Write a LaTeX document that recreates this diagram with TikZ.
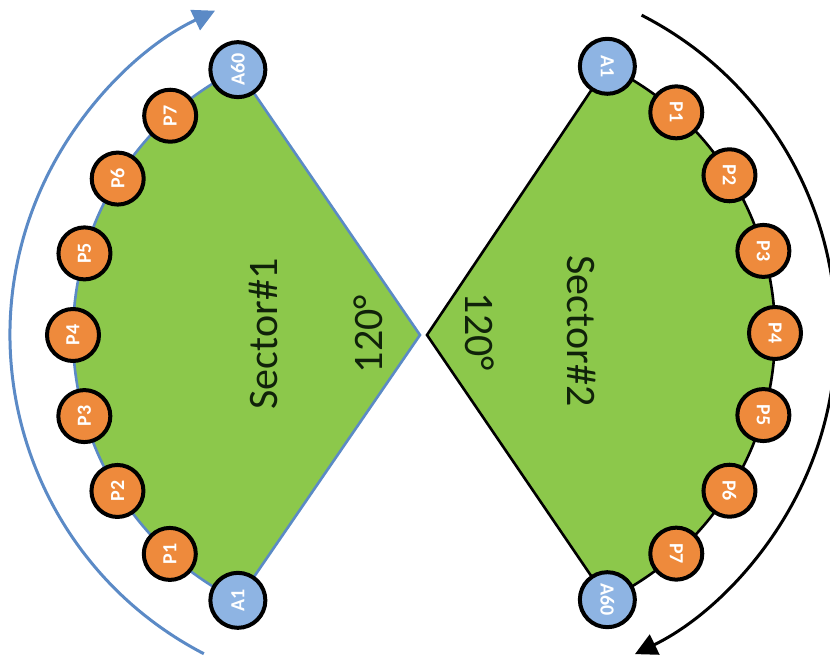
\documentclass[tikz,border=0pt]{standalone}
\usepackage{fontspec}
\setmainfont{Carlito}
\usetikzlibrary{arrows.meta}
\definecolor{secgreen}{HTML}{8CC84B}
\definecolor{porange}{HTML}{EE8A3C}
\definecolor{ablue}{HTML}{8EB4E3}
\definecolor{lineblue}{HTML}{5B8AC6}
\definecolor{textdark}{HTML}{10220A}
\tikzset{
  pcirc/.style={circle, draw=black, line width=2pt, fill=porange, minimum size=26pt, inner sep=0pt, text=white, font=\fontsize{10}{10}\selectfont\bfseries},
  acirc/.style={pcirc, fill=ablue, minimum size=27.5pt},
  biglabel/.style={text=textdark, font=\fontsize{21}{21}\selectfont},
}
\begin{document}
\begin{tikzpicture}[x=0.5pt,y=0.5pt]
\useasboundingbox (0,0) rectangle (830,658);
% centres and apexes
\coordinate (C1) at (369,323);
\coordinate (C2) at (479,325);
\coordinate (apexL) at (420,323);
\coordinate (apexR) at (427,323);
% sectors
\draw[lineblue, line width=1.3pt, fill=secgreen, line join=miter]
  (apexL) -- ([shift={(116.3:296)}]C1) arc[start angle=116.3, end angle=243.7, radius=296] -- cycle;
\draw[black, line width=1.3pt, fill=secgreen, line join=miter]
  (apexR) -- ([shift={(64.3:296)}]C2) arc[start angle=64.3, end angle=-64.3, radius=296] -- cycle;
% outer arrows
\draw[lineblue, line width=1.5pt, -{Triangle[length=11pt,width=11pt]}]
  ([shift={(242.6:359)}]C1) arc[start angle=242.6, end angle=115.4, radius=359];
\draw[black, line width=1.5pt, -{Triangle[length=11pt,width=11pt]}]
  ([shift={(62.9:357)}]C2) arc[start angle=62.9, end angle=-64.1, radius=357];
% left circles
\node[acirc, rotate=90] (LA60) at ([shift={(116.3:296)}]C1) {A60};
\node[pcirc, rotate=90] (LP7) at ([shift={(132.2:296)}]C1) {P7};
\node[pcirc, rotate=90] (LP6) at ([shift={(148.1:296)}]C1) {P6};
\node[pcirc, rotate=90] (LP5) at ([shift={(164.0:296)}]C1) {P5};
\node[pcirc, rotate=90] (LP4) at ([shift={(180.0:296)}]C1) {P4};
\node[pcirc, rotate=90] (LP3) at ([shift={(195.9:296)}]C1) {P3};
\node[pcirc, rotate=90] (LP2) at ([shift={(211.8:296)}]C1) {P2};
\node[pcirc, rotate=90] (LP1) at ([shift={(227.7:296)}]C1) {P1};
\node[acirc, rotate=90] (LA1) at ([shift={(243.7:296)}]C1) {A1};
% right circles
\node[acirc, rotate=-90] (RA1) at ([shift={(64.3:296)}]C2) {A1};
\node[pcirc, rotate=-90] (RP1) at ([shift={(48.2:296)}]C2) {P1};
\node[pcirc, rotate=-90] (RP2) at ([shift={(32.2:296)}]C2) {P2};
\node[pcirc, rotate=-90] (RP3) at ([shift={(16.1:296)}]C2) {P3};
\node[pcirc, rotate=-90] (RP4) at ([shift={(0:296)}]C2) {P4};
\node[pcirc, rotate=-90] (RP5) at ([shift={(-16.1:296)}]C2) {P5};
\node[pcirc, rotate=-90] (RP6) at ([shift={(-32.2:296)}]C2) {P6};
\node[pcirc, rotate=-90] (RP7) at ([shift={(-48.2:296)}]C2) {P7};
\node[acirc, rotate=-90] (RA60) at ([shift={(-64.3:296)}]C2) {A60};
% labels
\node[biglabel, rotate=90] (sec1) at (263,324) {Sector\#1};
\node[biglabel, rotate=90] (ang1) at (368,324) {120°};
\node[biglabel, rotate=-90] (sec2) at (582,327) {Sector\#2};
\node[biglabel, rotate=-90] (ang2) at (480,326) {120°};
\end{tikzpicture}
\end{document}
